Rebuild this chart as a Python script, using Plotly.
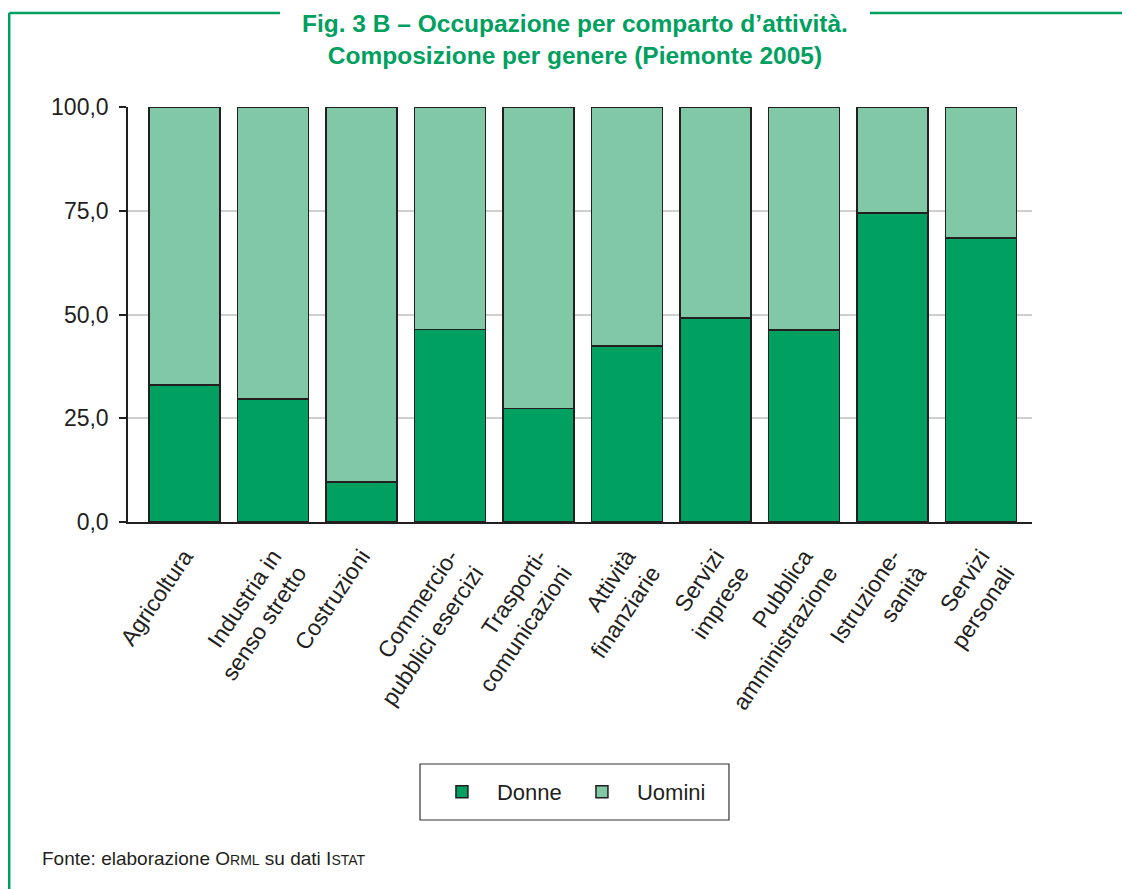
import plotly.graph_objects as go

categories = ["Agricoltura", "Industria in senso stretto", "Costruzioni",
              "Commercio-pubblici esercizi", "Trasporti-comunicazioni",
              "Attività finanziarie", "Servizi imprese", "Pubblica amministrazione",
              "Istruzione-sanità", "Servizi personali"]
tick_labels = ["Agricoltura", "Industria in<br>senso stretto", "Costruzioni",
               "Commercio-<br>pubblici esercizi", "Trasporti-<br>comunicazioni",
               "Attività<br>finanziarie", "Servizi<br>imprese", "Pubblica<br>amministrazione",
               "Istruzione-<br>sanità", "Servizi<br>personali"]
donne = [33.0, 29.7, 9.6, 46.4, 27.3, 42.4, 49.1, 46.3, 74.4, 68.4]
uomini = [round(100 - d, 1) for d in donne]
y_ticks = [0, 25, 50, 75, 100]

GREEN = "#00A060"
LIGHT = "#80C8A6"
DARK = "#231f20"
FONT = "Liberation Sans, Arial, sans-serif"

fig = go.Figure()
fig.add_trace(go.Bar(x=categories, y=donne, name="Donne",
                     marker=dict(color=GREEN, line=dict(color=DARK, width=1.5))))
fig.add_trace(go.Bar(x=categories, y=uomini, name="Uomini",
                     marker=dict(color=LIGHT, line=dict(color=DARK, width=1.5))))

fig.update_layout(
    width=1122, height=881,
    barmode="stack", bargap=0.2,
    separators=",.",
    plot_bgcolor="white", paper_bgcolor="white",
    margin=dict(l=120, r=98, t=99, b=367),
    font=dict(family=FONT, color=DARK, size=21),
    showlegend=True,
    legend=dict(orientation="h", x=0.3307, xanchor="left", y=-0.6506, yanchor="middle",
                borderwidth=0, bgcolor="rgba(0,0,0,0)",
                font=dict(size=22, color=DARK), itemwidth=60, entrywidth=65,
                traceorder="normal"),
    xaxis=dict(range=[-0.638, 9.576], tickvals=categories, ticktext=tick_labels,
               tickangle=-56, showline=True, linecolor=DARK, linewidth=1.5,
               ticks="", tickfont=dict(size=23, color=DARK), showgrid=False,
               ticklabelstandoff=10),
    yaxis=dict(range=[0, 100], tickvals=y_ticks, tickformat=".1f",
               showline=True, linecolor=DARK, linewidth=1.5,
               ticks="outside", ticklen=7, tickcolor=DARK, tickwidth=1.5,
               showgrid=True, gridcolor="#cfcfcf", gridwidth=1.5,
               tickfont=dict(size=23, color=DARK), zeroline=False,
               ticklabelstandoff=6),
)

# legend frame
fig.add_shape(type="rect", xref="paper", yref="paper", x0=0.323, x1=0.6648,
              y0=-0.7181, y1=-0.5831, line=dict(color="#333333", width=1.2),
              fillcolor="rgba(0,0,0,0)", layer="below")

# title (two lines)
fig.add_annotation(xref="paper", yref="paper", x=0.494, y=1.2386, yanchor="top",
                   text="<b>Fig. 3 B – Occupazione per comparto d’attività.</b><br>"
                        "<b>Composizione per genere (Piemonte 2005)</b>",
                   showarrow=False, align="center",
                   font=dict(size=24.5, color=GREEN, family=FONT))

# frame lines
fig.add_shape(type="line", xref="paper", yref="paper", x0=-0.1314, x1=0.1681,
              y0=1.2265, y1=1.2265, line=dict(color=GREEN, width=2.5))
fig.add_shape(type="line", xref="paper", yref="paper", x0=0.8208, x1=1.12,
              y0=1.2265, y1=1.2265, line=dict(color=GREEN, width=2.5))
fig.add_shape(type="line", xref="paper", yref="paper", x0=-0.1314, x1=-0.1314,
              y0=1.2265, y1=-0.9, line=dict(color=GREEN, width=2.5))

# source
fig.add_annotation(xref="paper", yref="paper", x=(32 - 120) / 904, xanchor="left",
                   y=(514 - 850) / 415, yanchor="middle", showarrow=False, align="left",
                   text="Fonte: elaborazione O<span style='font-size:14px'>RML</span> su dati I<span style='font-size:14px'>STAT</span>",
                   font=dict(size=19, color=DARK, family=FONT))

fig.write_html("out.html")
